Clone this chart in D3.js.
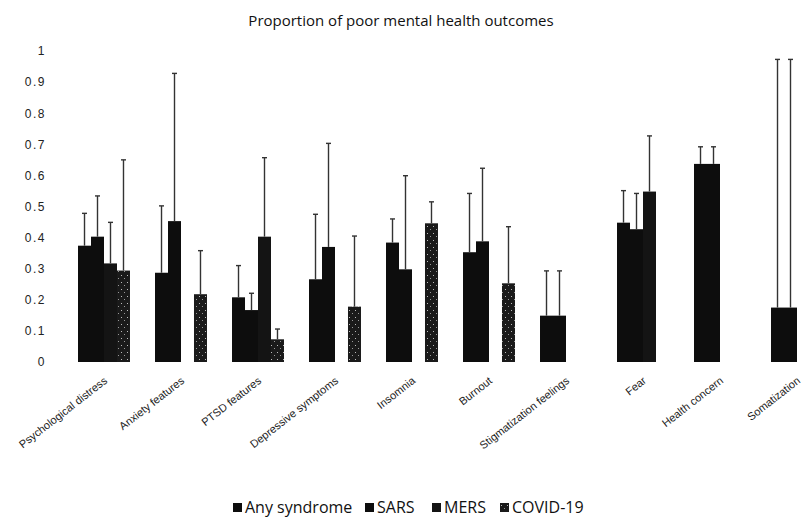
<!DOCTYPE html>
<html>
<head>
<meta charset="utf-8">
<script src="https://cdn.jsdelivr.net/npm/d3@7/dist/d3.min.js"></script>
<style>
  body { margin: 0; background: #fff; }
  svg { display: block; font-family: "Open Sans", sans-serif; }
  .title { font-size: 15px; fill: #111; }
  .y.axis text { font-size: 12px; fill: #222; letter-spacing: 1.5px; }
  .x.axis text { font-size: 11px; fill: #222; }
  .legend text { font-size: 16px; fill: #111; }
  .errbar { stroke: #333; stroke-width: 1.4; }
</style>
</head>
<body>
<div id="chart"></div>
<script>
// Data
var CATEGORIES = [
  "Psychological distress",
  "Anxiety features",
  "PTSD features",
  "Depressive symptoms",
  "Insomnia",
  "Burnout",
  "Stigmatization feelings",
  "Fear",
  "Health concern",
  "Somatization"
];
var SERIES = ["Any syndrome", "SARS", "MERS", "COVID-19"];

// proportions (null = no bar)
var ANY = [0.374, 0.287, 0.208, 0.266, 0.384, 0.353, 0.149, 0.448, 0.637, 0.175];
var SARS = [0.403, 0.453, 0.167, 0.37, 0.298, 0.388, 0.149, 0.427, 0.637, 0.175];
var MERS = [0.317, null, 0.403, null, null, null, null, 0.548, null, null];
var COVID = [0.294, 0.218, 0.073, 0.178, 0.446, 0.253, null, null, null, null];

// upper ends of the error bars
var ANY_HI = [0.478, 0.502, 0.31, 0.475, 0.46, 0.542, 0.293, 0.551, 0.692, 0.973];
var SARS_HI = [0.534, 0.928, 0.221, 0.703, 0.599, 0.623, 0.293, 0.542, 0.692, 0.973];
var MERS_HI = [0.449, null, 0.657, null, null, null, null, 0.727, null, null];
var COVID_HI = [0.65, 0.358, 0.106, 0.405, 0.515, 0.435, null, null, null, null];

var Y_TICKS = [0, 0.1, 0.2, 0.3, 0.4, 0.5, 0.6, 0.7, 0.8, 0.9, 1];
var COLORS = ["#0d0d0d", "#0d0d0d", "#141414", "url(#speckle)"];

var width = 802;
var height = 517;

var makeTranslate = function(x, y) {
  return "translate(" + x + "," + y + ")";
};

var render = function() {
  var values = [ANY, SARS, MERS, COVID];
  var highs = [ANY_HI, SARS_HI, MERS_HI, COVID_HI];

  var svg = d3
    .select("#chart")
    .append("svg")
    .attr("width", width)
    .attr("height", height);

  // speckled fill for the COVID-19 bars
  var pattern = svg
    .append("defs")
    .append("pattern")
    .attr("id", "speckle")
    .attr("patternUnits", "userSpaceOnUse")
    .attr("width", 6)
    .attr("height", 7);
  pattern.append("rect").attr("width", 6).attr("height", 7).attr("fill", "#1a1a1a");
  pattern.append("rect").attr("x", 1).attr("y", 2).attr("width", 1).attr("height", 1).attr("fill", "#bbb");
  pattern.append("rect").attr("x", 4).attr("y", 5).attr("width", 1).attr("height", 1).attr("fill", "#999");

  // Scales
  var xScale = d3
    .scaleBand()
    .domain(CATEGORIES)
    .range([65.5, 835.5])
    .paddingInner(0.325)
    .paddingOuter(0.1625);

  var xSub = d3
    .scaleBand()
    .domain(SERIES)
    .range([0, xScale.bandwidth()]);

  var yScale = d3
    .scaleLinear()
    .domain([0, 1])
    .range([362, 51]);

  // Title
  svg
    .append("text")
    .attr("class", "title")
    .attr("x", 401)
    .attr("y", 26)
    .attr("text-anchor", "middle")
    .text("Proportion of poor mental health outcomes");

  // Y axis (labels only)
  var yAxis = d3
    .axisLeft(yScale)
    .tickValues(Y_TICKS)
    .tickSize(0)
    .tickPadding(0)
    .tickFormat(d => d === 0 || d === 1 ? d : d3.format(".1f")(d));

  svg
    .append("g")
    .attr("class", "y axis")
    .attr("transform", makeTranslate(46, 0))
    .call(yAxis)
    .call(g => g.select(".domain").remove());

  // X axis labels
  var xAxis = d3.axisBottom(xScale).tickSize(0).tickPadding(0);

  svg
    .append("g")
    .attr("class", "x axis")
    .call(xAxis)
    .call(g => g.select(".domain").remove())
    .selectAll(".tick")
    .attr("transform", d => makeTranslate(xScale(d) + xScale.bandwidth() / 2, 0))
    .select("text")
    .attr("y", 0)
    .attr("dy", 0)
    .attr("text-anchor", "end")
    .attr("transform", makeTranslate(4, 382) + " rotate(-38)");

  // Bars
  var rows = [];
  CATEGORIES.forEach(function(c, i) {
    SERIES.forEach(function(s, j) {
      if (values[j][i] != null) {
        rows.push({ cat: c, series: s, idx: j, value: values[j][i], hi: highs[j][i] });
      }
    });
  });

  var bars = svg.append("g").attr("class", "bars");

  bars
    .selectAll("rect")
    .data(rows)
    .enter()
    .append("rect")
    .attr("x", d => xScale(d.cat) + xSub(d.series))
    .attr("y", d => yScale(d.value))
    .attr("width", xSub.bandwidth())
    .attr("height", d => yScale(0) - yScale(d.value))
    .attr("fill", d => COLORS[d.idx]);

  // Error bars (upper only)
  var err = svg
    .append("g")
    .attr("class", "errors")
    .selectAll("g")
    .data(rows)
    .enter()
    .append("g")
    .attr("transform", d => makeTranslate(xScale(d.cat) + xSub(d.series) + xSub.bandwidth() / 2, 0));

  err
    .append("line")
    .attr("class", "errbar")
    .attr("x1", 0)
    .attr("x2", 0)
    .attr("y1", d => yScale(d.value))
    .attr("y2", d => yScale(d.hi));

  err
    .append("line")
    .attr("class", "errbar")
    .attr("x1", -2.5)
    .attr("x2", 2.5)
    .attr("y1", d => yScale(d.hi))
    .attr("y2", d => yScale(d.hi));

  // Legend
  var legendX = [233, 365, 432, 500];
  var legend = svg
    .append("g")
    .attr("class", "legend")
    .selectAll("g")
    .data(SERIES)
    .enter()
    .append("g")
    .attr("transform", (d, i) => makeTranslate(legendX[i], 503));

  legend
    .append("rect")
    .attr("width", 9)
    .attr("height", 9)
    .attr("fill", (d, i) => COLORS[i]);

  legend
    .append("text")
    .attr("x", 12)
    .attr("y", 9.5)
    .text(d => d);
};

render();
</script>
</body>
</html>
